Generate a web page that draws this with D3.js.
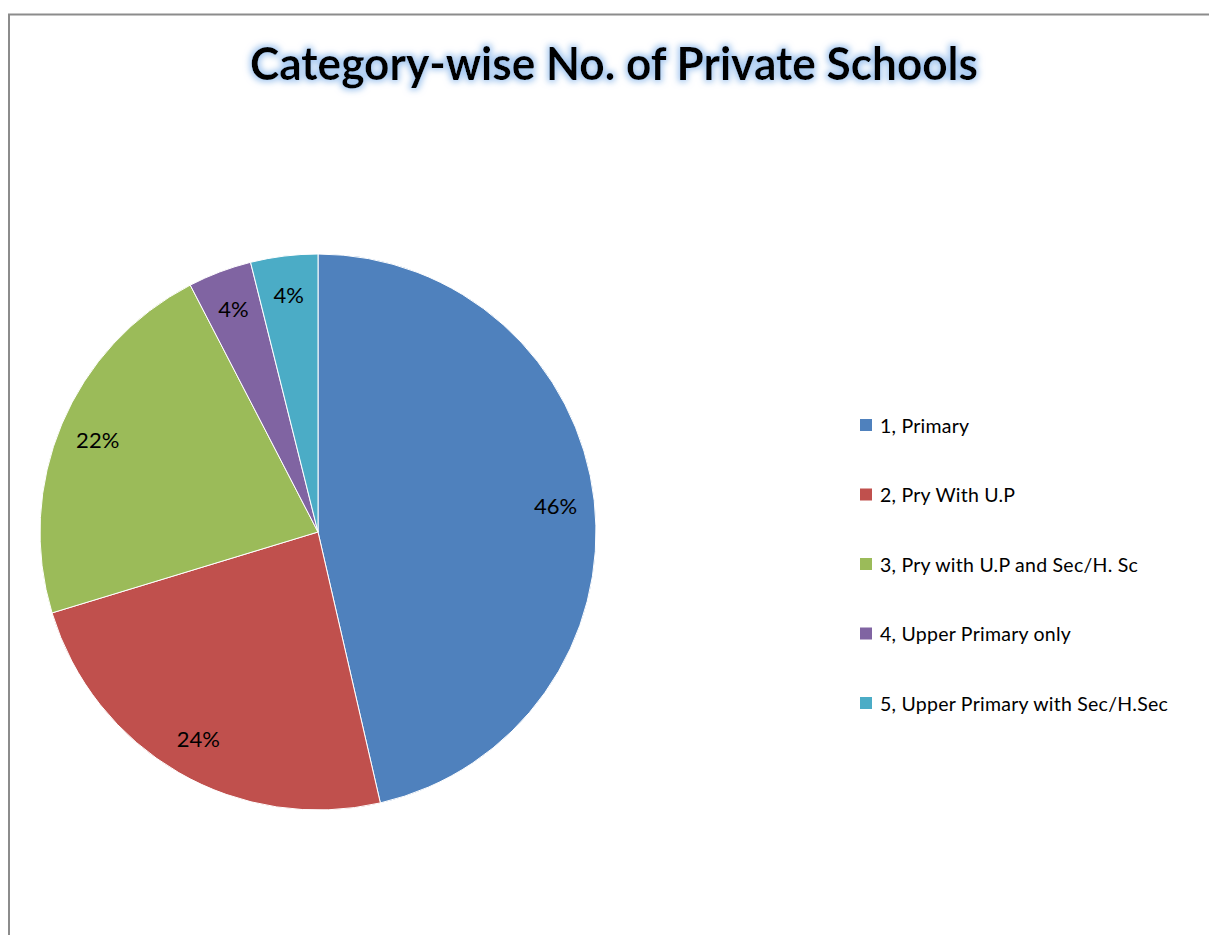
<!DOCTYPE html>
<html>
<head>
<meta charset="utf-8">
<script src="https://cdn.jsdelivr.net/npm/d3@7"></script>
<style>
  body { margin: 0; background: #fff; }
  svg { display: block; }
</style>
</head>
<body>
<div id="chart"></div>
<script>
let width = 1209;
let height = 935;

// data
let categories = ["1, Primary", "2, Pry With U.P", "3, Pry with U.P and Sec/H. Sc", "4, Upper Primary only", "5, Upper Primary with Sec/H.Sec"];
let values = [464, 239, 221, 37, 39];
let colors = ["#4F81BD", "#C0504D", "#9BBB59", "#8064A2", "#4BACC6"];
let title = "Category-wise No. of Private Schools";

let svg = d3.select("#chart").append("svg").attr("width", width).attr("height", height);

// glow filter for the title
let defs = svg.append("defs");
let glow = defs.append("filter").attr("id", "glow").attr("x", "-10%").attr("y", "-40%").attr("width", "120%").attr("height", "180%");
glow.append("feMorphology").attr("in", "SourceAlpha").attr("operator", "dilate").attr("radius", 2).attr("result", "thick");
glow.append("feGaussianBlur").attr("in", "thick").attr("stdDeviation", 3).attr("result", "blur");
glow.append("feFlood").attr("flood-color", "#9cc2ee").attr("flood-opacity", 0.9);
glow.append("feComposite").attr("in2", "blur").attr("operator", "in").attr("result", "glowc");
let merge = glow.append("feMerge");
merge.append("feMergeNode").attr("in", "glowc");
merge.append("feMergeNode").attr("in", "SourceGraphic");

// chart border
svg.append("path")
  .attr("d", "M9," + height + " V14.5 H" + width)
  .attr("fill", "none")
  .attr("stroke", "#8c8c8c")
  .attr("stroke-width", 2);

svg.append("text")
  .attr("x", 614)
  .attr("y", 80)
  .attr("text-anchor", "middle")
  .attr("font-family", "Lato, 'Open Sans', sans-serif")
  .attr("font-weight", "bold")
  .attr("font-size", 45)
  .attr("textLength", 728)
  .attr("lengthAdjust", "spacingAndGlyphs")
  .attr("fill", "#000")
  .attr("filter", "url(#glow)")
  .text(title);

// pie
let cx = 318, cy = 532, radius = 278;
let total = d3.sum(values);

let pie = d3.pie().sort(null).value(d => d);
let arc = d3.arc().innerRadius(0).outerRadius(radius);
let labelArc = d3.arc().innerRadius(radius * 0.86).outerRadius(radius * 0.86);

let g = svg.append("g").attr("transform", "translate(" + cx + "," + cy + ")");
let arcs = pie(values);

g.selectAll(".slice")
  .data(arcs)
  .enter()
  .append("path")
  .attr("class", "slice")
  .attr("d", arc)
  .attr("fill", (d, i) => colors[i])
  .attr("stroke", "#fff")
  .attr("stroke-width", 1);

g.selectAll(".label")
  .data(arcs)
  .enter()
  .append("text")
  .attr("class", "label")
  .attr("transform", d => "translate(" + labelArc.centroid(d) + ")")
  .attr("text-anchor", "middle")
  .attr("dominant-baseline", "central")
  .attr("font-family", "Lato, 'Open Sans', sans-serif")
  .attr("font-size", 22)
  .attr("fill", "#000")
  .text(d => Math.round(d.value / total * 100) + "%");

// legend
let legendY = d3.scalePoint().domain(categories).range([425, 703]);

let legend = svg.selectAll(".legend")
  .data(categories)
  .enter()
  .append("g")
  .attr("class", "legend")
  .attr("transform", d => "translate(860," + legendY(d) + ")");

legend.append("rect")
  .attr("x", 0)
  .attr("y", -6)
  .attr("width", 12)
  .attr("height", 12)
  .attr("fill", (d, i) => colors[i]);

legend.append("text")
  .attr("x", 20)
  .attr("y", 0)
  .attr("dominant-baseline", "central")
  .attr("font-family", "Lato, 'Open Sans', sans-serif")
  .attr("font-size", 19.5)
  .attr("letter-spacing", 0.25)
  .attr("fill", "#000")
  .text(d => d);
</script>
</body>
</html>
